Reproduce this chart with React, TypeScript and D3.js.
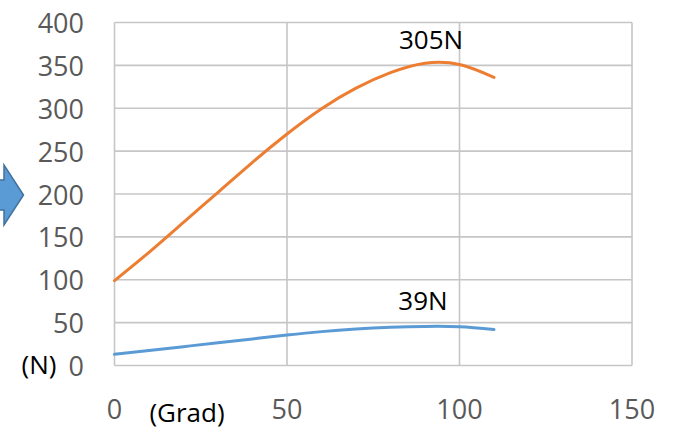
import React from "react";
import * as d3 from "d3";

const xTicks = [0, 50, 100, 150];
const yTicks = [0, 50, 100, 150, 200, 250, 300, 350, 400];

const angles = [0, 10, 20, 30, 40, 50, 60, 70, 80, 90, 100, 110];
const orangeValues = [99, 132, 167, 202, 237, 270, 299.5, 323.5, 341.5, 352.5, 351, 336];
const blueValues = [13, 17.5, 22, 26.5, 31, 35.5, 39.5, 42.5, 44.5, 45.6, 45.2, 42];

const orangeLabel = "305N";
const blueLabel = "39N";
const yUnit = "(N)";
const xUnit = "(Grad)";

const W = 675;
const H = 430;
const left = 114.5;
const right = 632;
const top = 22.5;
const bottom = 365.5;

export default function App() {
  const x = d3.scaleLinear().domain([0, 150]).range([left, right]);
  const y = d3.scaleLinear().domain([0, 400]).range([bottom, top]);

  const line = d3
    .line<number>()
    .x((_, i) => x(angles[i]))
    .y((d) => y(d))
    .curve(d3.curveNatural);

  const font = "'Open Sans', sans-serif";
  const grid = "#C6C6C6";

  return (
    <svg
      width={W}
      height={H}
      style={{ position: "absolute", left: 0, top: 0, background: "#fff" }}
      fontFamily={font}
    >
      <rect x={0} y={0} width={W} height={H} fill="#fff" />
      {/* Partial block arrow at left edge */}
      <polygon
        points="-20,180 4,180 4,165 23.5,195 4,225 4,210 -20,210"
        fill="#5B9BD5"
        stroke="#41719C"
        strokeWidth={1.5}
      />
      {/* grid */}
      {yTicks.map((t) => (
        <line key={"gy" + t} x1={left} x2={right} y1={y(t)} y2={y(t)} stroke={grid} strokeWidth={1.6} />
      ))}
      {xTicks.map((t) => (
        <line key={"gx" + t} x1={x(t)} x2={x(t)} y1={top} y2={bottom} stroke={grid} strokeWidth={1.6} />
      ))}
      {/* y tick labels */}
      {yTicks.map((t) => (
        <text
          key={"ly" + t}
          x={84}
          y={y(t)}
          textAnchor="end"
          dominantBaseline="central"
          fontSize={27}
          fill="#595959"
        >
          {t}
        </text>
      ))}
      {/* x tick labels */}
      {xTicks.map((t) => (
        <text
          key={"lx" + t}
          x={x(t)}
          y={408}
          textAnchor="middle"
          dominantBaseline="central"
          fontSize={27}
          fill="#595959"
        >
          {t}
        </text>
      ))}
      {/* series */}
      <path d={line(orangeValues) || ""} fill="none" stroke="#ED7D31" strokeWidth={3} strokeLinecap="round" />
      <path d={line(blueValues) || ""} fill="none" stroke="#5B9BD5" strokeWidth={3} strokeLinecap="round" />
      {/* labels */}
      <text x={431} y={39} textAnchor="middle" dominantBaseline="central" fontSize={26} fill="#000">
        {orangeLabel}
      </text>
      <text x={423} y={300} textAnchor="middle" dominantBaseline="central" fontSize={26} fill="#000">
        {blueLabel}
      </text>
      <text x={39} y={364} textAnchor="middle" dominantBaseline="central" fontSize={26} fill="#000">
        {yUnit}
      </text>
      <text x={187} y={412} textAnchor="middle" dominantBaseline="central" fontSize={26} fill="#000">
        {xUnit}
      </text>
    </svg>
  );
}
